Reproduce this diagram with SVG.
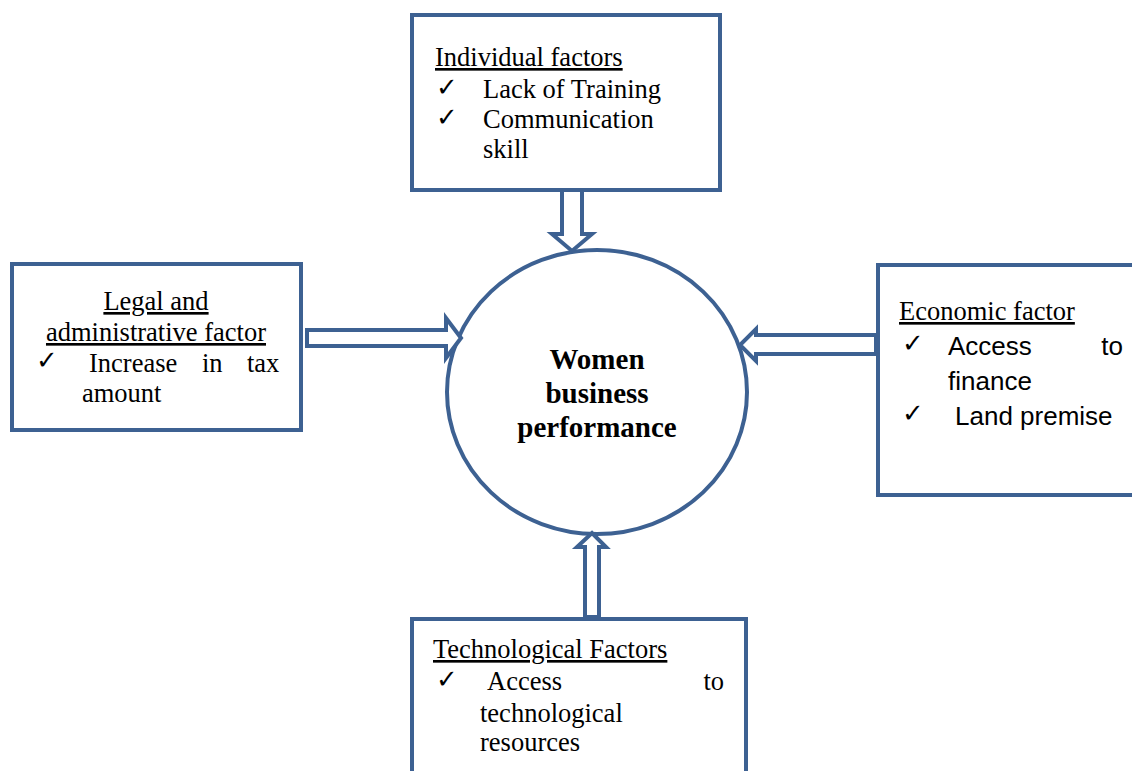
<svg xmlns="http://www.w3.org/2000/svg" width="1132" height="771" viewBox="0 0 1132 771">
<style>
.box{fill:#fff;stroke:#3d6192;stroke-width:4}
.arr{fill:#fff;stroke:#3d6192;stroke-width:4;stroke-linejoin:miter}
.t{font-family:"Liberation Serif","Times New Roman",serif;font-size:26.5px;fill:#000}
.s{font-family:"Liberation Sans",Arial,sans-serif;font-size:26px;fill:#000}
.u{text-decoration:underline}
.ck{font-family:"DejaVu Sans",sans-serif;font-size:26px;fill:#000}
.b{font-family:"Liberation Serif","Times New Roman",serif;font-size:29px;font-weight:bold;fill:#000}
</style>
<rect width="1132" height="771" fill="#fff"/>
<g id="center">
<ellipse cx="597" cy="392" rx="150" ry="142" fill="#fff" stroke="#3d6192" stroke-width="4"/>
<text class="b" x="597" y="369" text-anchor="middle">Women</text>
<text class="b" x="597" y="403" text-anchor="middle">business</text>
<text class="b" x="597" y="437" text-anchor="middle">performance</text>
</g>
<g id="connectors">
<polygon class="arr" points="562,190 582,190 582,234 592,234 572,251 552,234 562,234"/>
<polygon class="arr" points="307,330 446,330 446,318 461,338 446,358 446,346 307,346"/>
<polygon class="arr" points="876,335 756,335 756,329 740,345 756,361 756,354 876,354"/>
<polygon class="arr" points="585,617 585,547 577,547 592,533 606,547 599,547 599,617"/>
</g>
<g id="individual">
<rect class="box" x="412" y="15" width="308" height="175"/>
<text class="t u" x="435" y="66">Individual factors</text>
<text class="ck" x="436" y="96">✓</text>
<text class="t" x="483" y="98">Lack of Training</text>
<text class="ck" x="436" y="126">✓</text>
<text class="t" x="483" y="128">Communication</text>
<text class="t" x="483" y="158">skill</text>
</g>
<g id="legal">
<rect class="box" x="12" y="264" width="289" height="166"/>
<text class="t u" x="156" y="310" text-anchor="middle">Legal and</text>
<text class="t u" x="156" y="341" text-anchor="middle">administrative factor</text>
<text class="ck" x="36" y="369">✓</text>
<text class="t" x="89" y="372">Increase</text>
<text class="t" x="202" y="372">in</text>
<text class="t" x="247" y="372">tax</text>
<text class="t" x="82" y="402">amount</text>
</g>
<g id="economic">
<rect class="box" x="878" y="265" width="270" height="230"/>
<text class="t u" x="899" y="320">Economic factor</text>
<text class="ck" x="902" y="352">✓</text>
<text class="s" x="948" y="355">Access</text>
<text class="s" x="1123" y="355" text-anchor="end">to</text>
<text class="s" x="948" y="390">finance</text>
<text class="ck" x="902" y="422">✓</text>
<text class="s" x="955" y="425">Land premise</text>
</g>
<g id="technological">
<rect class="box" x="412" y="619" width="334" height="170"/>
<text class="t u" x="433" y="658">Technological Factors</text>
<text class="ck" x="436" y="688">✓</text>
<text class="t" x="487" y="690">Access</text>
<text class="t" x="724" y="690" text-anchor="end">to</text>
<text class="t" x="480" y="722">technological</text>
<text class="t" x="480" y="751">resources</text>
</g>
</svg>
